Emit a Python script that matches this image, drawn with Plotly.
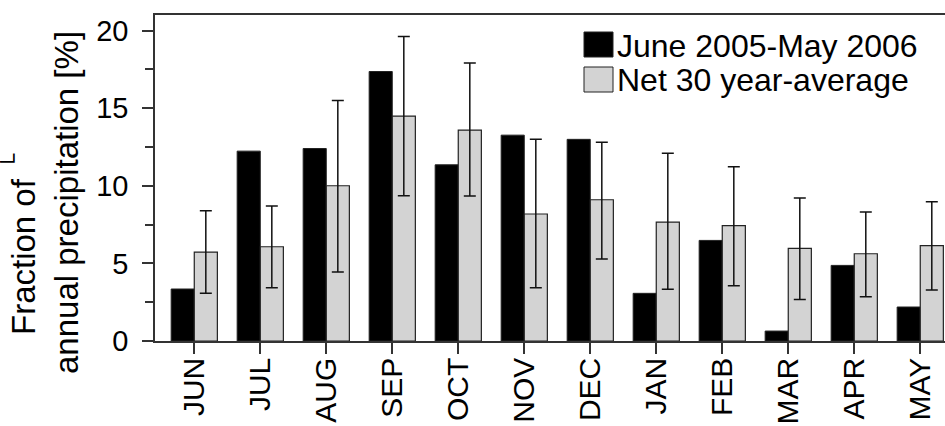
import plotly.graph_objects as go

months = ["JUN", "JUL", "AUG", "SEP", "OCT", "NOV", "DEC", "JAN", "FEB", "MAR", "APR", "MAY"]
series_names = ["June 2005-May 2006", "Net 30 year-average"]
obs_2005_2006 = [3.35, 12.23, 12.4, 17.36, 11.35, 13.26, 12.99, 3.07, 6.48, 0.64, 4.87, 2.19]
avg_30yr = [5.73, 6.07, 10.0, 14.49, 13.59, 8.18, 9.1, 7.66, 7.43, 5.97, 5.62, 6.14]
avg_upper = [8.39, 8.69, 15.5, 19.62, 17.9, 12.99, 12.81, 12.1, 11.22, 9.21, 8.31, 8.97]
avg_lower = [3.07, 3.43, 4.44, 9.36, 9.34, 3.43, 5.28, 3.33, 3.56, 2.68, 2.85, 3.28]
y_title_lines = ["Fraction of <sup>└</sup>", "annual precipitation [%]"]

err_plus = [u - v for u, v in zip(avg_upper, avg_30yr)]
err_minus = [v - l for v, l in zip(avg_30yr, avg_lower)]

W, H = 945, 426
L, T, B, R = 155, 15, 85, 0
FONT = "Liberation Sans, Arial, Helvetica, sans-serif"

def px(x):
    return (x - L) / (W - L - R)

def py(y):
    return (H - B - y) / (H - B - T)

fig = go.Figure()
fig.add_trace(go.Bar(
    x=months, y=obs_2005_2006, name=series_names[0],
    marker=dict(color="black", line=dict(color="#222", width=1)),
    showlegend=False,
))
fig.add_trace(go.Bar(
    x=months, y=avg_30yr, name=series_names[1],
    marker=dict(color="#d3d3d3", line=dict(color="#222", width=1.2)),
    error_y=dict(type="data", symmetric=False, array=err_plus, arrayminus=err_minus,
                 color="#111", thickness=1.5, width=6),
    showlegend=False,
))

# legend drawn as shapes + text
legend_rows = [(32, 57, "black"), (67, 92, "#d3d3d3")]
for (y0, y1, col), name in zip(legend_rows, series_names):
    fig.add_shape(type="rect", xref="paper", yref="paper",
                  x0=px(584), x1=px(613), y0=py(y1), y1=py(y0),
                  fillcolor=col, line=dict(color="#222", width=1))
    fig.add_annotation(xref="paper", yref="paper", x=px(615), y=py((y0 + y1) / 2 + 1),
                       xanchor="left", yanchor="middle", showarrow=False,
                       text=name, font=dict(family=FONT, size=32, color="black"))

# y-axis title, two lines placed separately
for text, cx, cy in zip(y_title_lines, [21, 66], [244, 203]):
    fig.add_annotation(xref="paper", yref="paper", x=px(cx), y=py(cy),
                       xanchor="center", yanchor="middle", showarrow=False,
                       textangle=-90, text=text,
                       font=dict(family=FONT, size=33, color="black"))

fig.update_layout(
    width=W, height=H,
    margin=dict(l=L, r=R, t=T, b=B, autoexpand=False),
    paper_bgcolor="white", plot_bgcolor="white",
    barmode="group", bargap=0.3, bargroupgap=0,
    font=dict(family=FONT, color="black"),
    xaxis=dict(
        range=[-0.595, 11.375], automargin=False,
        showline=True, linecolor="#333", linewidth=1.5, mirror=True,
        ticks="outside", ticklen=11, tickwidth=1.5, tickcolor="#333",
        tickangle=-90, tickfont=dict(family=FONT, size=30, color="black"),
        ticklabelstandoff=-8,
        showgrid=False, zeroline=False,
    ),
    yaxis=dict(
        range=[0, 21], automargin=False,
        showline=True, linecolor="#333", linewidth=1.5, mirror=False,
        ticks="outside", ticklen=11, tickwidth=1.5, tickcolor="#333",
        tickmode="array", tickvals=[0, 5, 10, 15, 20],
        tickfont=dict(family=FONT, size=29, color="black"),
        ticklabelstandoff=8,
        minor=dict(ticks="outside", ticklen=8, tickwidth=1.5, tickcolor="#333",
                   tickmode="array", tickvals=[2.5, 7.5, 12.5, 17.5]),
        showgrid=False, zeroline=False,
    ),
)

fig.write_html("out.html")
